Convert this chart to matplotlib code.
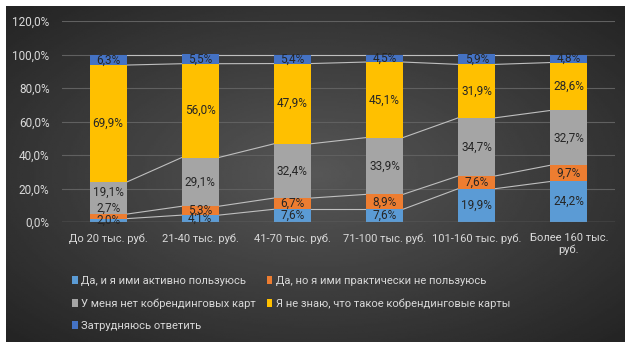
import numpy as np
import matplotlib
matplotlib.use("Agg")
import matplotlib.pyplot as plt

plt.rcParams['font.family'] = ['Roboto', 'DejaVu Sans']

# данные
categories = ["До 20 тыс. руб.", "21-40 тыс. руб.", "41-70 тыс. руб.",
              "71-100 тыс. руб.", "101-160 тыс. руб.", "Более 160 тыс.\nруб."]
series_names = ["Да, и я ими активно пользуюсь",
                "Да, но я ими практически не пользуюсь",
                "У меня нет кобрендинговых карт",
                "Я не знаю, что такое кобрендинговые карты",
                "Затрудняюсь ответить"]
active = [2.0, 4.1, 7.6, 7.6, 19.9, 24.2]
not_used = [2.7, 5.3, 6.7, 8.9, 7.6, 9.7]
no_cards = [19.1, 29.1, 32.4, 33.9, 34.7, 32.7]
dont_know = [69.9, 56.0, 47.9, 45.1, 31.9, 28.6]
hard_to_say = [6.3, 5.5, 5.4, 4.5, 5.9, 4.8]
colors = ["#5B9BD5", "#ED7D31", "#A5A5A5", "#FFC000", "#4472C4"]

series = [active, not_used, no_cards, dont_know, hard_to_say]

fig = plt.figure(figsize=(6.33, 3.51), dpi=100, facecolor="white")

# фон с градиентом
bg = fig.add_axes([6/633, 9/351, 619/633, 336/351])
yy, xx = np.mgrid[-1:1:200j, -1:1:300j]
r = np.sqrt(xx**2 + yy**2) / np.sqrt(2)
bg.imshow(0.34 - 0.2 * r, cmap="gray", vmin=0, vmax=1, aspect="auto",
          extent=[0, 1, 0, 1])
bg.axis("off")

ax = fig.add_axes([62/633, 1 - 222/351, 553/633, 201/351])
ax.set_facecolor("none")
x = np.arange(len(categories))
width = 0.40
# сдвиги подписей первого столбца, как в оригинале
label_shift = {(1, 0): 5, (2, 0): 3.5}
bottom = np.zeros(len(categories))
tops = []
handles = []
for k, (name, vals, c) in enumerate(zip(series_names, series, colors)):
    vals = np.array(vals)
    h = ax.bar(x, vals, width, bottom=bottom, color=c, label=name, zorder=3)
    handles.append(h)
    for i, v in enumerate(vals):
        yc = bottom[i] + v / 2 + label_shift.get((k, i), 0)
        ax.text(x[i], yc, f"{v:.1f}%".replace(".", ","), ha="center", va="center",
                fontsize=8.5, color="#262626", zorder=5)
    bottom = bottom + vals
    tops.append(bottom.copy())

# соединительные линии рядов
for lvl in tops:
    for i in range(len(x) - 1):
        ax.plot([x[i] + width / 2, x[i + 1] - width / 2], [lvl[i], lvl[i + 1]],
                color="#BFBFBF", lw=0.8, zorder=2)

ax.set_xlim(-0.5, 5.5)
ax.set_ylim(0, 120)
ax.set_yticks(range(0, 121, 20))
ax.set_yticklabels([f"{v},0%" for v in range(0, 121, 20)], fontsize=8.5)
ax.set_xticks(x)
ax.set_xticklabels(categories, fontsize=8)
ax.grid(axis="y", color="#606060", lw=0.8, zorder=0)
ax.axhline(0, color="#8C8C8C", lw=0.9, zorder=4)
for s in ax.spines.values():
    s.set_visible(False)
ax.tick_params(length=0, colors="#D9D9D9")
ax.tick_params(axis="y", pad=9)
ax.tick_params(axis="x", pad=8)

# легенда построчно: порядок для заполнения по столбцам
order = [0, 2, 4, 1, 3]
ax.legend([handles[k] for k in order], [series_names[k] for k in order],
          loc="upper left", bbox_to_anchor=(0.0, -0.22), ncol=2, frameon=False,
          fontsize=8, labelcolor="#D9D9D9", handlelength=0.5, handleheight=0.7,
          handletextpad=0.3, columnspacing=1.0, labelspacing=1.08)

fig.savefig("out.png", dpi=100, facecolor="white")
